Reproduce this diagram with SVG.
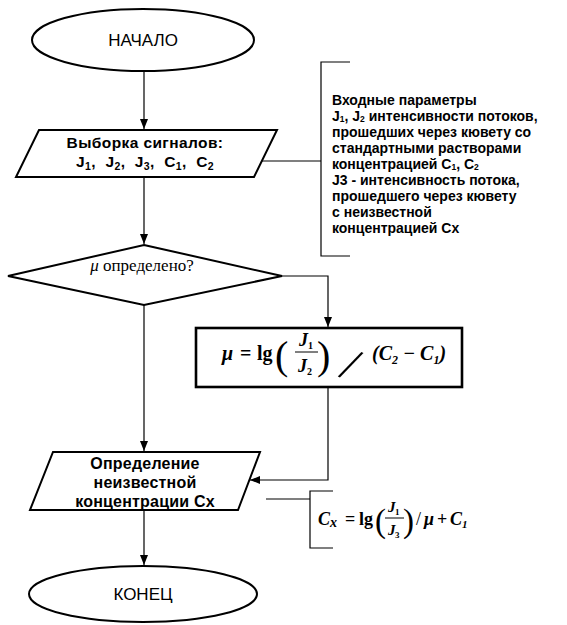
<svg xmlns="http://www.w3.org/2000/svg" width="567" height="625" viewBox="0 0 567 625">
<style>
.shape{fill:#fff;stroke:#000;stroke-width:2}
.box{fill:#fff;stroke:#000;stroke-width:2.6}
.line{fill:none;stroke:#000;stroke-width:1.2}
.br{fill:none;stroke:#000;stroke-width:1.2}
.t{font-family:"Liberation Sans",Arial,sans-serif;font-weight:bold;fill:#000}
.c{text-anchor:middle}
.n{font-family:"Liberation Sans",Arial,sans-serif;fill:#000;text-anchor:middle}
.s{font-family:"Liberation Serif","Times New Roman",serif;fill:#000}
.mi{font-family:"Liberation Serif","Times New Roman",serif;font-style:italic;font-weight:bold;fill:#000}
.mr{font-family:"Liberation Serif","Times New Roman",serif;font-weight:bold;fill:#000}
.p{font-family:"Liberation Serif","Times New Roman",serif;font-weight:normal;fill:#000}
</style>
<defs>
<marker id="arr" viewBox="0 0 10 8" refX="10" refY="4" markerWidth="10" markerHeight="8" markerUnits="userSpaceOnUse" orient="auto">
<path d="M0,0 L10,4 L0,8 z" fill="#000"/>
</marker>
</defs>
<rect width="567" height="625" fill="#fff"/>

<g id="connectors">
<line class="line" x1="144" y1="71" x2="144" y2="129" marker-end="url(#arr)"/>
<line class="line" x1="144" y1="177" x2="144" y2="244" marker-end="url(#arr)"/>
<path class="line" d="M282,276 H328 V327" marker-end="url(#arr)"/>
<line class="line" x1="144" y1="305" x2="144" y2="451" marker-end="url(#arr)"/>
<path class="line" d="M328,387 V480 H250" marker-end="url(#arr)"/>
<line class="line" x1="144" y1="510" x2="144" y2="565" marker-end="url(#arr)"/>
<line class="line" x1="262" y1="161" x2="321" y2="161"/>
<line class="line" x1="266" y1="499" x2="310" y2="499"/>
</g>

<g id="start">
<ellipse class="shape" cx="143" cy="40" rx="111" ry="31"/>
<text class="n" x="143" y="46" font-size="17">НАЧАЛО</text>
</g>

<g id="input">
<polygon class="shape" points="39,130 277,130 254,177 16,177"/>
<text class="t c" x="145" y="148" font-size="15.5" letter-spacing="0.4">Выборка сигналов:</text>
<text class="t c" x="145" y="167" font-size="15.5" letter-spacing="0.4" xml:space="preserve">J<tspan font-size="10.5" dy="3">1</tspan><tspan dy="-3">,  J</tspan><tspan font-size="10.5" dy="3">2</tspan><tspan dy="-3">,  J</tspan><tspan font-size="10.5" dy="3">3</tspan><tspan dy="-3">,  C</tspan><tspan font-size="10.5" dy="3">1</tspan><tspan dy="-3">,  C</tspan><tspan font-size="10.5" dy="3">2</tspan></text>
</g>

<g id="note-input">
<path class="br" d="M350,62 H321 V256 H350"/>
<text class="t" x="332" font-size="14">
<tspan x="332" y="104.5">Входные параметры</tspan>
<tspan x="332" y="120.5">J</tspan><tspan font-size="8.5" dy="1.3">1</tspan><tspan dy="-1.3">, J</tspan><tspan font-size="8.5" dy="1.3">2</tspan><tspan dy="-1.3"> интенсивности потоков,</tspan>
<tspan x="332" y="136.5">прошедших через кювету со</tspan>
<tspan x="332" y="152.5">стандартными растворами</tspan>
<tspan x="332" y="168.5">концентрацией C</tspan><tspan font-size="8.5" dy="1.3">1</tspan><tspan dy="-1.3">, C</tspan><tspan font-size="8.5" dy="1.3">2</tspan>
<tspan x="332" y="184.5">J3 - интенсивность потока,</tspan>
<tspan x="332" y="200.5">прошедшего через кювету</tspan>
<tspan x="332" y="216.5">с неизвестной</tspan>
<tspan x="332" y="232.5">концентрацией Cx</tspan>
</text>
</g>

<g id="decision">
<polygon class="shape" points="144,245 282,276 144,305 8,276"/>
<text class="s" x="142" y="271" font-size="17" text-anchor="middle"><tspan font-style="italic">μ</tspan> определено?</text>
</g>

<g id="calc-mu">
<rect class="box" x="196" y="328" width="266" height="59"/>
<text class="mi" x="222" y="360" font-size="20">μ</text>
<text class="mr" x="240" y="360" font-size="20">=</text>
<text class="mr" x="257" y="360" font-size="20">lg</text>
<text class="p" x="275" y="369" font-size="40">(</text>
<text class="mi" x="299" y="346" font-size="18">J</text>
<text class="mr" x="308" y="349" font-size="10">1</text>
<line x1="295" y1="352" x2="318" y2="352" stroke="#000" stroke-width="1"/>
<text class="mi" x="298" y="372" font-size="18">J</text>
<text class="mr" x="307" y="375" font-size="10">2</text>
<text class="p" x="317" y="369" font-size="40">)</text>
<text class="p" x="0" y="0" font-size="48" transform="translate(338,376) rotate(25)">/</text>
<text class="mi" x="372" y="360" font-size="20">(C<tspan font-size="12" dy="4">2</tspan><tspan dy="-4"> − C</tspan><tspan font-size="12" dy="4">1</tspan><tspan dy="-4">)</tspan></text>
</g>

<g id="calc-cx">
<polygon class="shape" points="53,452 260,452 238,510 30,510"/>
<text class="t c" x="145" y="469" font-size="16" letter-spacing="0.2">Определение</text>
<text class="t c" x="145" y="488" font-size="16" letter-spacing="0.2">неизвестной</text>
<text class="t c" x="145" y="507" font-size="16" letter-spacing="0.2">концентрации Cx</text>
</g>

<g id="note-cx">
<path class="br" d="M333,491 H310 V548 H333"/>
<text class="mi" x="318" y="525" font-size="18">C<tspan font-size="14" dy="2">x</tspan></text>
<text class="mr" x="345" y="525" font-size="18">=</text>
<text class="mr" x="359" y="525" font-size="18">lg</text>
<text class="p" x="375" y="532" font-size="33">(</text>
<text class="mi" x="388" y="512" font-size="15">J</text>
<text class="mr" x="395" y="515" font-size="9">1</text>
<line x1="385" y1="518" x2="404" y2="518" stroke="#000" stroke-width="1"/>
<text class="mi" x="388" y="535" font-size="15">J</text>
<text class="mr" x="395" y="538" font-size="9">3</text>
<text class="p" x="403" y="532" font-size="33">)</text>
<text class="p" x="416" y="525" font-size="18">/</text>
<text class="mi" x="424" y="525" font-size="18">μ</text>
<text class="mr" x="437" y="525" font-size="18">+</text>
<text class="mi" x="450" y="525" font-size="18">C<tspan font-size="11" dy="3">1</tspan></text>
</g>

<g id="end">
<ellipse class="shape" cx="143" cy="594" rx="114" ry="28"/>
<text class="n" x="143" y="600" font-size="17">КОНЕЦ</text>
</g>
</svg>
